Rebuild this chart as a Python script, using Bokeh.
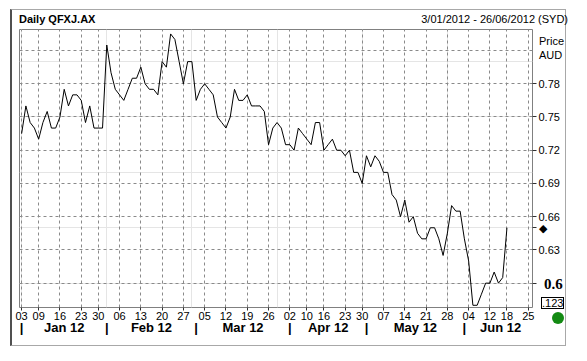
import numpy as np
import pandas as pd
from bokeh.plotting import figure
from bokeh.layouts import column
from bokeh.models import (LinearAxis, FixedTicker, Range1d, AllLabels, Grid, Div,
                          PrintfTickFormatter)
from bokeh.embed import file_html
from bokeh.resources import INLINE

# ---------------- data ----------------
chart_title = "Daily QFXJ.AX"
period_text = "3/01/2012 - 26/06/2012 (SYD)"
start_date = "2012-01-03"
end_date = "2012-06-26"
asx_holidays = ["2012-01-26", "2012-04-06", "2012-04-09", "2012-04-25", "2012-06-11"]

# daily closing prices (AUD), one per trading day from 3 Jan 2012
prices = [
    0.735, 0.76, 0.745, 0.74, 0.73, 0.745, 0.755, 0.74, 0.74, 0.75,
    0.775, 0.76, 0.77, 0.77, 0.765, 0.745, 0.76, 0.74, 0.74, 0.74,
    0.815, 0.79, 0.775, 0.77, 0.765, 0.775, 0.785, 0.785, 0.795, 0.78,
    0.775, 0.775, 0.77, 0.80, 0.795, 0.825, 0.82, 0.80, 0.78, 0.80,
    0.80, 0.765, 0.775, 0.78, 0.775, 0.77, 0.75, 0.745, 0.74, 0.75,
    0.775, 0.765, 0.765, 0.77, 0.76, 0.76, 0.76, 0.755, 0.725, 0.74,
    0.745, 0.74, 0.725, 0.725, 0.72, 0.74, 0.735, 0.73, 0.725, 0.745,
    0.745, 0.72, 0.725, 0.73, 0.72, 0.72, 0.715, 0.72, 0.70, 0.70,
    0.69, 0.715, 0.705, 0.715, 0.71, 0.70, 0.70, 0.68, 0.675, 0.66,
    0.675, 0.655, 0.66, 0.645, 0.64, 0.64, 0.65, 0.65, 0.64, 0.625,
    0.645, 0.67, 0.665, 0.665, 0.64, 0.62, 0.58, 0.58, 0.59, 0.60,
    0.60, 0.61, 0.60, 0.605, 0.65,
]

price_ticks = [0.60, 0.63, 0.66, 0.69, 0.72, 0.75, 0.78]
grid_prices = [0.60, 0.63, 0.66, 0.69, 0.72, 0.75, 0.78, 0.81]
axis_name = ["Price", "AUD"]
box_text = ".123"

# ---------------- derived calendar ----------------
days = pd.bdate_range(start_date, end_date)
days = days[~days.isin(pd.to_datetime(asx_holidays))]
n_days = len(days)
day_idx = np.arange(n_days)

week_key = days.to_period("W")
week_starts = [int(i) for i in day_idx if i == 0 or week_key[i] != week_key[i - 1]]
week_labels = {i: days[i].strftime("%d") for i in week_starts}

month_key = days.to_period("M")
month_starts = [int(i) for i in day_idx if i == 0 or month_key[i] != month_key[i - 1]]
month_bounds = month_starts + [n_days]
month_centers = [(month_bounds[k] + month_bounds[k + 1]) / 2 for k in range(len(month_starts))]
month_labels = {}
for k, s in enumerate(month_starts):
    month_labels[s] = "|"
    month_labels[month_centers[k]] = days[s].strftime("%b %y")

FONT = "Liberation Sans"

p = figure(width=556, height=337,
           x_range=Range1d(-0.5, 120), y_range=Range1d(0.578, 0.829),
           output_backend="svg", toolbar_location=None,
           x_axis_location=None, y_axis_location=None,
           min_border_left=7, min_border_top=19, min_border_right=36, min_border_bottom=40)
p.styles = {"border": "1px solid #a8a8a8", "border-left": "2px solid #505050",
            "margin-left": "10px", "margin-top": "9px"}
p.background_fill_color = "white"
p.border_fill_color = "white"
p.outline_line_color = "#808080"

p.add_layout(Grid(dimension=0, ticker=FixedTicker(ticks=week_starts),
                  grid_line_color="#8a8a8a", grid_line_dash="3 3"))
p.add_layout(Grid(dimension=1, ticker=FixedTicker(ticks=grid_prices),
                  grid_line_color="#8a8a8a", grid_line_dash="3 3"))

p.line(day_idx[:len(prices)], prices, line_color="black", line_width=1)

# right price axis (last price marked with a diamond)
last_price = prices[-1]
yax = LinearAxis(ticker=FixedTicker(ticks=price_ticks + [last_price]),
                 formatter=PrintfTickFormatter(format="%.2f"),
                 major_label_overrides={price_ticks[0]: "", last_price: "\u25c6"},
                 major_tick_out=4, major_tick_in=0, minor_tick_out=0, minor_tick_in=0,
                 axis_line_color=None, major_tick_line_color="#303030",
                 major_label_standoff=2, major_label_text_font=FONT,
                 major_label_text_font_size="11px", major_label_text_color="black",
                 major_label_policy=AllLabels())
p.add_layout(yax, "right")

# bottom week axis
xax = LinearAxis(ticker=FixedTicker(ticks=week_starts), major_label_overrides=week_labels,
                 major_tick_out=3, major_tick_in=0, minor_tick_out=0, minor_tick_in=0,
                 axis_line_color=None, major_tick_line_color="#303030",
                 major_label_standoff=1, major_label_text_font=FONT,
                 major_label_text_font_size="11px", major_label_text_color="black",
                 major_label_policy=AllLabels())
p.add_layout(xax, "below")

# bottom month axis
max_ = LinearAxis(ticker=FixedTicker(ticks=month_starts + month_centers),
                  major_label_overrides=month_labels,
                  major_tick_out=0, major_tick_in=0, minor_tick_out=0, minor_tick_in=0,
                  axis_line_color=None, major_tick_line_color=None,
                  major_label_standoff=-3, major_label_text_font=FONT,
                  major_label_text_font_size="13px", major_label_text_font_style="bold",
                  major_label_text_color="black", major_label_policy=AllLabels())
p.add_layout(max_, "below")

# header / side texts outside the plot frame (HTML overlay)
def span(left, top, html, style=""):
    return ('<span style="position:absolute;left:%spx;top:%spx;white-space:nowrap;'
            'font-family:\'Liberation Sans\';font-size:11px;line-height:12px;color:#000;%s">%s</span>'
            % (left, top, style, html))

overlay_html = "".join([
    span(14, 8, chart_title, "font-weight:bold;"),
    span(363, 8, period_text, "width:200px;text-align:right;"),
    span(534, 30, axis_name[0]),
    span(534, 44, axis_name[1]),
    span(539, 271, "%g" % price_ticks[0],
         "font-family:'Liberation Serif';font-weight:bold;font-size:15px;line-height:16px;"),
    span(536, 292, box_text, "box-sizing:border-box;width:23px;height:12px;"
         "border:1px solid #000;line-height:10px;text-align:center;background:#fff;"),
    span(547, 307, "", "width:12px;height:12px;border-radius:50%;background:#138a13;"),
])
overlay = Div(text=overlay_html, width=587, height=361,
              styles={"position": "absolute", "left": "0px", "top": "0px"})

layout = column(p, overlay)
open("out.html", "w").write(file_html(layout, INLINE))
